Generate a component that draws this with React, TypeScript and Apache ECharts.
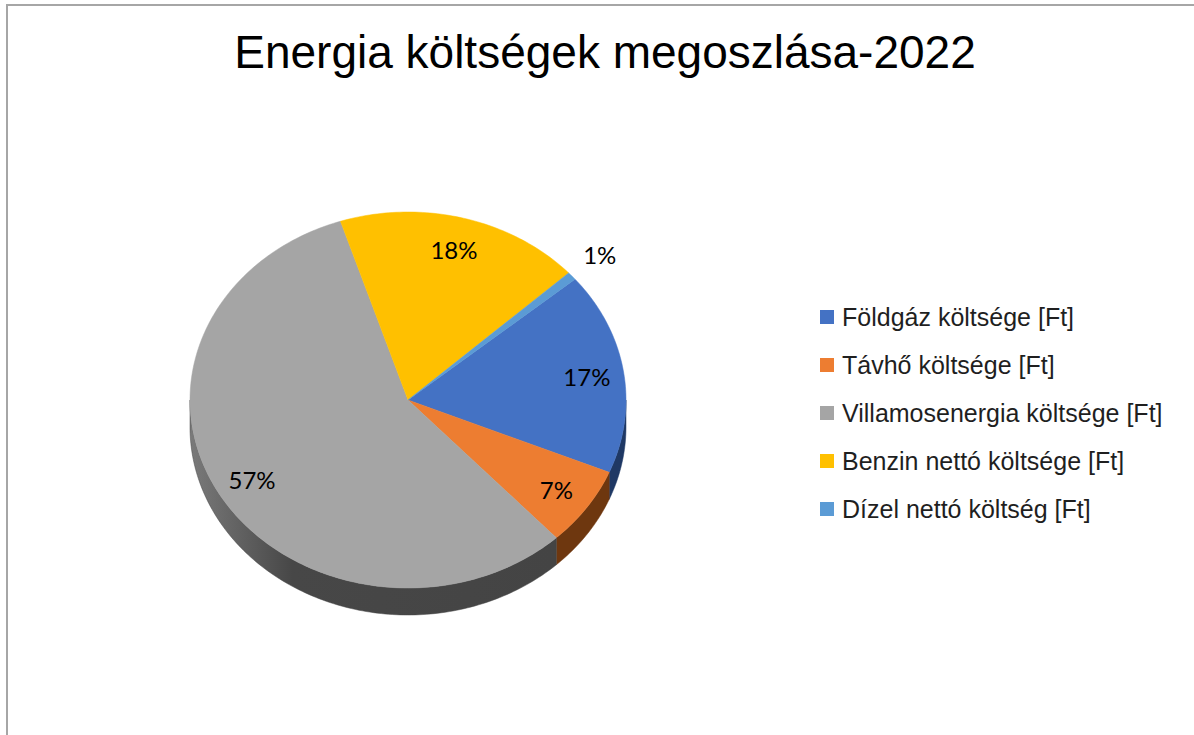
import React, { useEffect, useRef } from "react";
import * as echarts from "echarts";

const titleText = "Energia költségek megoszlása-2022";
const categories = [
  "Földgáz költsége [Ft]",
  "Távhő költsége [Ft]",
  "Villamosenergia költsége [Ft]",
  "Benzin nettó költsége [Ft]",
  "Dízel nettó költség [Ft]",
];
const values = [17.4, 6.8, 56.9, 18.2, 0.7];
const colors = ["#4472c4", "#ed7d31", "#a5a5a5", "#ffc000", "#5b9bd5"];
const sideColors = ["#1f3864", "#6e370f", "#444444", "#7f6000", "#2e5b84"];

// layout (3D ellipse geometry)
const CX = 408;
const CY = 400;
const RX = 218;
const RY = 188;
const DEPTH = 27;
const FIRST_ANGLE = 50; // degrees clockwise from 12 o'clock

const total = values.reduce((a, b) => a + b, 0);

function pt(theta: number, dy = 0): number[] {
  const r = (theta * Math.PI) / 180;
  return [CX + RX * Math.sin(r), CY - RY * Math.cos(r) + dy];
}

function arc(a: number, b: number, dy = 0): number[][] {
  const pts: number[][] = [];
  const n = Math.max(2, Math.ceil(Math.abs(b - a) / 1));
  for (let k = 0; k <= n; k++) pts.push(pt(a + ((b - a) * k) / n, dy));
  return pts;
}

function makeRenderItem(i: number) {
  return (params: any, api: any) => {
    const v = api.value(0);
    let before = 0;
    for (let k = 0; k < i; k++) before += values[k];
    const start = FIRST_ANGLE + (before / total) * 360;
    const end = start + (v / total) * 360;
    const children: any[] = [];
    // visible side (front half: 90..270 and 450..630)
    const ranges = [
      [90, 270],
      [450, 630],
    ];
    for (const [lo, hi] of ranges) {
      const a = Math.max(start, lo);
      const b = Math.min(end, hi);
      if (b > a) {
        const top = arc(a, b, 0);
        const bottom = arc(b, a, DEPTH);
        const fill =
          i === 2
            ? new echarts.graphic.LinearGradient(0, 0, 1, 0, [
                { offset: 0, color: "#7a7a7a" },
                { offset: 0.28, color: "#474747" },
                { offset: 1, color: "#444444" },
              ])
            : sideColors[i];
        children.push({
          type: "polygon",
          shape: { points: top.concat(bottom) },
          style: { fill, stroke: sideColors[i], lineWidth: 0.5 },
        });
      }
    }
    // top face
    children.push({
      type: "polygon",
      shape: { points: [[CX, CY]].concat(arc(start, end, 0)) },
      style: { fill: colors[i], stroke: colors[i], lineWidth: 0.5 },
    });
    // label
    const pct = (v / total) * 100;
    const mid = (start + end) / 2;
    const rf = pct < 3 ? 1.17 : 0.83;
    const r = (mid * Math.PI) / 180;
    children.push({
      type: "text",
      x: CX + RX * rf * Math.sin(r),
      y: CY - RY * rf * Math.cos(r),
      style: {
        text: Math.round(pct) + "%",
        fontSize: 24,
        fontFamily: "Lato",
        fill: "#000000",
        align: "center",
        verticalAlign: "middle",
      },
    });
    return { type: "group", children };
  };
}

export default function App() {
  const ref = useRef<HTMLDivElement>(null);
  useEffect(() => {
    if (!ref.current) return;
    const chart = echarts.init(ref.current, null, { renderer: "svg" });
    chart.setOption({
      animation: false,
      backgroundColor: "#ffffff",
      title: {
        text: titleText,
        left: 600,
        top: 24,
        textAlign: "center",
        textStyle: {
          fontFamily: "Liberation Sans",
          fontSize: 46,
          fontWeight: "normal",
          color: "#000000",
        },
      },
      legend: {
        orient: "vertical",
        left: 820,
        top: 304,
        padding: 0,
        icon: "rect",
        itemWidth: 14,
        itemHeight: 14,
        itemGap: 22,
        data: categories,
        textStyle: {
          fontFamily: "Liberation Sans",
          fontSize: 25,
          lineHeight: 26,
          color: "#1f1f1f",
          padding: [0, 0, 0, 3],
        },
      },
      graphic: [
        {
          type: "rect",
          shape: { x: 7, y: 5, width: 1400, height: 1000 },
          style: { fill: "none", stroke: "#a6a6a6", lineWidth: 2 },
          silent: true,
        },
      ],
      series: categories.map((name, i) => ({
        type: "custom",
        name,
        coordinateSystem: "none",
        data: [[values[i]]],
        itemStyle: { color: colors[i] },
        renderItem: makeRenderItem(i),
      })),
    });
    return () => chart.dispose();
  }, []);
  return (
    <div
      ref={ref}
      style={{ position: "absolute", left: 0, top: 0, width: 1194, height: 735 }}
    />
  );
}
